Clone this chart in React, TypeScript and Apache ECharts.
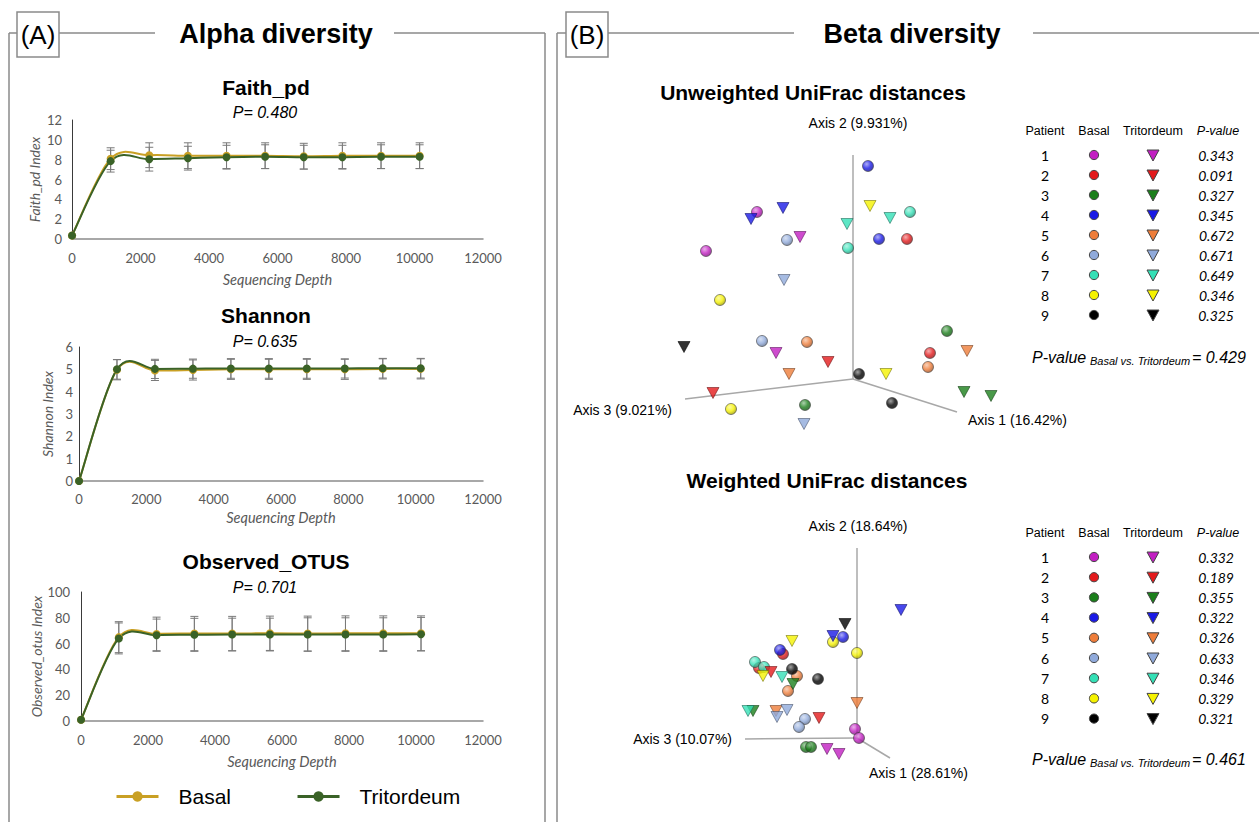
import React, { useEffect, useRef } from "react";
import * as echarts from "echarts";

// ---------- Alpha diversity data ----------
const DEPTHS = [1, 1128, 2256, 3384, 4512, 5639, 6767, 7895, 9023, 10150];
const X_TICKS_MAX = 12000;

const FAITH_BASAL = [0.35, 8.1, 8.45, 8.4, 8.4, 8.4, 8.35, 8.4, 8.4, 8.4];
const FAITH_BASAL_SD = [0, 1.1, 1.25, 1.3, 1.3, 1.3, 1.3, 1.3, 1.3, 1.3];
const FAITH_TRIT = [0.35, 7.85, 8.05, 8.15, 8.25, 8.3, 8.25, 8.25, 8.3, 8.3];
const FAITH_TRIT_SD = [0, 1.1, 1.2, 1.2, 1.2, 1.2, 1.2, 1.2, 1.2, 1.2];

const SHANNON_BASAL = [0, 4.98, 4.95, 4.97, 5.0, 5.0, 5.0, 5.0, 5.02, 5.02];
const SHANNON_BASAL_SD = [0, 0.45, 0.45, 0.45, 0.45, 0.45, 0.45, 0.45, 0.45, 0.45];
const SHANNON_TRIT = [0, 5.0, 5.02, 5.03, 5.04, 5.04, 5.04, 5.04, 5.05, 5.05];
const SHANNON_TRIT_SD = [0, 0.44, 0.43, 0.43, 0.44, 0.44, 0.44, 0.43, 0.44, 0.44];

const OBS_BASAL = [1, 65, 67.5, 67.8, 67.8, 68, 67.8, 68, 68, 68];
const OBS_BASAL_SD = [0, 12, 13, 13.3, 13.3, 13.3, 13.5, 13.5, 13.5, 13.5];
const OBS_TRIT = [1, 64, 66.5, 66.8, 67, 67, 67, 67, 67, 67.3];
const OBS_TRIT_SD = [0, 12, 12.5, 12.8, 12.7, 12.7, 13, 13, 13, 13];

const ALPHA_TITLES = ["Faith_pd", "Shannon", "Observed_OTUS"];
const ALPHA_P = ["P= 0.480", "P= 0.635", "P= 0.701"];
const ALPHA_YNAMES = ["Faith_pd Index", "Shannon Index", "Observed_otus Index"];

// ---------- Beta diversity data (projected PCoA coordinates) ----------
const PATIENTS = ["1", "2", "3", "4", "5", "6", "7", "8", "9"];
const PATIENT_COLORS = ["#C21FC2", "#E31A1C", "#1B7F1B", "#1A1AE6", "#EE7D3A", "#90AADB", "#34E0B6", "#F5F200", "#000000"];

const UNW_BASAL = [
  [[-96, 167], [-147, 128]],
  [[54, 140], [77, 26]],
  [[94, 48], [-48, -26]],
  [[15, 213], [26, 140]],
  [[-46, 37], [75, 12]],
  [[-66, 139], [-91, 38]],
  [[57, 167], [-5, 131]],
  [[-133, 79], [-122, -30]],
  [[6, 5], [39, -24]],
];
const UNW_TRIT = [
  [[-53, 142], [-77, 26]],
  [[-140, -14], [-25, 17]],
  [[111, -13], [138, -17]],
  [[-70, 171], [-102, 160]],
  [[-64, 5], [114, 28]],
  [[-69, 99], [-49, -45]],
  [[-6, 155], [37, 161]],
  [[17, 173], [33, 5]],
  [[-169, 32]],
];
const UNW_AXES = [[0, 224], [-168, -20], [104, -33]];
const UNW_AXIS_NAMES = ["Axis 2 (9.931%)", "Axis 3 (9.021%)", "Axis 1 (16.42%)"];
const UNW_PVALUES = ["0.343", "0.091", "0.327", "0.345", "0.672", "0.671", "0.649", "0.346", "0.325"];
const UNW_TOTAL_P = "= 0.429";

const W_BASAL = [
  [[-2, 9], [2, 0]],
  [[-74, 84], [-98, 70]],
  [[-51, -9], [-46, -9]],
  [[-77, 88], [-14, 101]],
  [[-60, 62], [-69, 47]],
  [[-52, 19], [-58, 11]],
  [[-102, 76], [-93, 71]],
  [[-24, 96], [0, 85]],
  [[-65, 69], [-39, 59]],
];
const W_TRIT = [
  [[-30, -11], [-18, -16]],
  [[-86, 66], [-38, 20]],
  [[-64, 54], [-104, 27]],
  [[-24, 102], [44, 128]],
  [[0, 35], [-81, 27]],
  [[-70, 28], [-80, 21]],
  [[-75, 61], [-109, 27]],
  [[-65, 97], [-94, 62]],
  [[-12, 114]],
];
const W_AXES = [[0, 190], [-112, -1], [33, -20]];
const W_AXIS_NAMES = ["Axis 2 (18.64%)", "Axis 3 (10.07%)", "Axis 1 (28.61%)"];
const W_PVALUES = ["0.332", "0.189", "0.355", "0.322", "0.326", "0.633", "0.346", "0.329", "0.321"];
const W_TOTAL_P = "= 0.461";

// ---------- styles ----------
const BASAL_COLOR = "#C9A024";
const TRIT_COLOR = "#3A6227";
const GRAY_TXT = "#595959";
const FRAME = "#8a8a8a";
const ARIAL = "Liberation Sans, Arial, sans-serif";
const CALIBRI = "Lato, sans-serif";

function hexToRgb(h: string) {
  const n = parseInt(h.slice(1), 16);
  return [(n >> 16) & 255, (n >> 8) & 255, n & 255];
}
function mix(c: string, w: string, t: number) {
  const a = hexToRgb(c), b = hexToRgb(w);
  const r = a.map((v, i) => Math.round(v + (b[i] - v) * t));
  return `rgb(${r[0]},${r[1]},${r[2]})`;
}
function sphere(c: string) {
  return {
    type: "radial", x: 0.38, y: 0.33, r: 0.7,
    colorStops: [
      { offset: 0, color: mix(c, "#ffffff", 0.55) },
      { offset: 0.55, color: c },
      { offset: 1, color: mix(c, "#000000", 0.35) },
    ],
  };
}

function txt(text: string, x: number, y: number, o: any = {}) {
  const align = o.align || "center";
  return {
    type: "text",
    silent: true,
    z: 10,
    style: {
      text, x, y,
      fill: o.color || "#000",
      fontSize: o.size || 14,
      fontFamily: o.family || ARIAL,
      fontWeight: o.weight || "normal",
      fontStyle: o.style || "normal",
      textAlign: align, align,
      textVerticalAlign: "middle", verticalAlign: "middle",
    },
  };
}
function gline(x1: number, y1: number, x2: number, y2: number, color = FRAME, w = 1.5) {
  return { type: "line", silent: true, shape: { x1, y1, x2, y2 }, style: { stroke: color, lineWidth: w } };
}

const ALPHA_GRIDS = [
  { left: 72, top: 120, width: 411, height: 119, max: 12, interval: 2, yGap: 31, xGap: 33, yMargin: 10, xMargin: 12, titleY: 87, pY: 112 },
  { left: 79, top: 347, width: 404, height: 134, max: 6, interval: 1, yGap: 25, xGap: 29, yMargin: 6, xMargin: 11, titleY: 315, pY: 341 },
  { left: 81, top: 592, width: 402, height: 129, max: 100, interval: 20, yGap: 35, xGap: 33, yMargin: 11, xMargin: 12, titleY: 561, pY: 587 },
];

function errSeries(idx: number, means: number[], sds: number[]) {
  const data: number[][] = [];
  DEPTHS.forEach((d, i) => {
    if (sds[i] > 0) data.push([d, means[i] - sds[i], means[i] + sds[i]]);
  });
  return {
    type: "custom",
    xAxisIndex: idx, yAxisIndex: idx,
    silent: true,
    z: 1,
    encode: { x: 0, y: [1, 2] },
    data,
    renderItem: (_p: any, api: any) => {
      const x = api.value(0);
      const lo = api.coord([x, api.value(1)]);
      const hi = api.coord([x, api.value(2)]);
      const cap = 4;
      const st = { stroke: "#7a7a7a", lineWidth: 1 };
      return {
        type: "group",
        children: [
          { type: "line", shape: { x1: lo[0], y1: lo[1], x2: hi[0], y2: hi[1] }, style: st },
          { type: "line", shape: { x1: lo[0] - cap, y1: lo[1], x2: lo[0] + cap, y2: lo[1] }, style: st },
          { type: "line", shape: { x1: hi[0] - cap, y1: hi[1], x2: hi[0] + cap, y2: hi[1] }, style: st },
        ],
      };
    },
  };
}

// Excel-style smoothed line: one cubic Bezier per segment, tangents from neighbours
function smoothSeries(idx: number, vals: number[], color: string) {
  const n = DEPTHS.length;
  const data: number[][] = [];
  for (let i = 0; i < n - 1; i++) {
    const a = Math.max(0, i - 1), b = Math.min(n - 1, i + 2);
    data.push([DEPTHS[i], vals[i], DEPTHS[i + 1], vals[i + 1], DEPTHS[a], vals[a], DEPTHS[b], vals[b]]);
  }
  return {
    type: "custom",
    xAxisIndex: idx, yAxisIndex: idx,
    silent: true,
    z: 2,
    encode: { x: [0, 2], y: [1, 3] },
    data,
    renderItem: (_p: any, api: any) => {
      const p1 = api.coord([api.value(0), api.value(1)]);
      const p2 = api.coord([api.value(2), api.value(3)]);
      const p0 = api.coord([api.value(4), api.value(5)]);
      const p3 = api.coord([api.value(6), api.value(7)]);
      return {
        type: "bezierCurve",
        shape: {
          x1: p1[0], y1: p1[1], x2: p2[0], y2: p2[1],
          cpx1: p1[0] + (p2[0] - p0[0]) / 6, cpy1: p1[1] + (p2[1] - p0[1]) / 6,
          cpx2: p2[0] - (p3[0] - p1[0]) / 6, cpy2: p2[1] - (p3[1] - p1[1]) / 6,
        },
        style: { stroke: color, lineWidth: 2, fill: "none" },
      };
    },
  };
}
function markerSeries(idx: number, name: string, vals: number[], color: string) {
  return {
    type: "line", name,
    xAxisIndex: idx, yAxisIndex: idx,
    data: DEPTHS.map((d, i) => [d, vals[i]]),
    symbol: "circle", symbolSize: 8,
    lineStyle: { color, width: 2, opacity: 0 },
    itemStyle: { color },
    z: 3,
  };
}

function scatterSeries(gi: number, groups: number[][][], tri: boolean) {
  const data: any[] = [];
  groups.forEach((pts, p) => {
    const c = PATIENT_COLORS[p];
    pts.forEach((pt) => {
      data.push({
        value: pt,
        itemStyle: tri
          ? { color: c, borderColor: mix(c, "#000000", 0.55), borderWidth: 0.7 }
          : { color: sphere(c), borderColor: "#333333", borderWidth: 0.7 },
      });
    });
  });
  return {
    type: "scatter",
    xAxisIndex: gi, yAxisIndex: gi,
    data,
    symbol: tri ? "triangle" : "circle",
    symbolRotate: tri ? 180 : 0,
    symbolSize: tri ? [12, 11] : 11,
    clip: false,
    silent: true,
    z: 4,
  };
}
function axesSeries(gi: number, axes: number[][]) {
  return {
    type: "lines",
    coordinateSystem: "cartesian2d",
    xAxisIndex: gi, yAxisIndex: gi,
    silent: true,
    z: 2,
    lineStyle: { color: "#a8a8a8", width: 1.5, opacity: 1 },
    data: axes.map((a) => ({ coords: [[0, 0], a] })),
  };
}

function tableGraphics(headerY: number, rowY0: number, rowStep: number, pvals: string[], totalP: string, totalY: number) {
  const g: any[] = [];
  g.push(txt("Patient", 1045, headerY, { size: 12.5 }));
  g.push(txt("Basal", 1094, headerY, { size: 12.5 }));
  g.push(txt("Tritordeum", 1153, headerY, { size: 12.5 }));
  g.push(txt("P-value", 1218, headerY, { size: 12.5, style: "italic" }));
  PATIENTS.forEach((p, i) => {
    const y = rowY0 + i * rowStep;
    const c = PATIENT_COLORS[i];
    g.push(txt(p, 1045, y, { size: 14, family: CALIBRI }));
    g.push({ type: "circle", silent: true, z: 10, shape: { cx: 1094, cy: y, r: 4.6 }, style: { fill: c, stroke: "#444", lineWidth: 1 } });
    g.push({
      type: "polygon", silent: true, z: 10,
      shape: { points: [[1147, y - 5], [1159, y - 5], [1153, y + 6]] },
      style: { fill: c, stroke: "#444", lineWidth: 1 },
    });
    g.push(txt(pvals[i], 1234, y, { size: 14, family: CALIBRI, style: "italic", align: "right" }));
  });
  g.push(txt("P-value", 1032, totalY, { size: 16, style: "italic", align: "left" }));
  g.push(txt("Basal vs. Tritordeum", 1090, totalY + 4, { size: 11, style: "italic", align: "left" }));
  g.push(txt(totalP, 1192, totalY, { size: 16, style: "italic", align: "left" }));
  return g;
}

function buildOption() {
  const grids: any[] = [];
  const xAxes: any[] = [];
  const yAxes: any[] = [];
  const series: any[] = [];
  const graphic: any[] = [];

  const alphaData = [
    [FAITH_BASAL, FAITH_BASAL_SD, FAITH_TRIT, FAITH_TRIT_SD],
    [SHANNON_BASAL, SHANNON_BASAL_SD, SHANNON_TRIT, SHANNON_TRIT_SD],
    [OBS_BASAL, OBS_BASAL_SD, OBS_TRIT, OBS_TRIT_SD],
  ];

  ALPHA_GRIDS.forEach((gd, i) => {
    grids.push({ left: gd.left, top: gd.top, width: gd.width, height: gd.height });
    xAxes.push({
      gridIndex: i, type: "value", min: 0, max: X_TICKS_MAX, interval: 2000,
      name: "Sequencing Depth", nameLocation: "middle", nameGap: gd.xGap,
      nameTextStyle: { fontStyle: "italic", fontFamily: CALIBRI, fontSize: 14.5, color: GRAY_TXT },
      axisLine: { show: true, onZero: false, lineStyle: { color: "#8c8c8c", width: 1.5 } },
      axisTick: { show: false },
      axisLabel: { color: GRAY_TXT, fontFamily: CALIBRI, fontSize: 13, margin: gd.xMargin, formatter: (v: number) => String(v) },
      splitLine: { show: false },
    });
    yAxes.push({
      gridIndex: i, type: "value", min: 0, max: gd.max, interval: gd.interval,
      name: ALPHA_YNAMES[i], nameLocation: "middle", nameGap: gd.yGap,
      nameTextStyle: { fontStyle: "italic", fontFamily: CALIBRI, fontSize: 14, color: GRAY_TXT },
      axisLine: { show: true, lineStyle: { color: "#3a3a3a", width: 1 } },
      axisTick: { show: false },
      axisLabel: { color: GRAY_TXT, fontFamily: CALIBRI, fontSize: 13, margin: gd.yMargin },
      splitLine: { show: false },
    });
    const [b, bsd, t, tsd] = alphaData[i];
    series.push(errSeries(i, b, bsd));
    series.push(errSeries(i, t, tsd));
    series.push(smoothSeries(i, b, BASAL_COLOR));
    series.push(smoothSeries(i, t, TRIT_COLOR));
    series.push(markerSeries(i, "Basal", b, BASAL_COLOR));
    series.push(markerSeries(i, "Tritordeum", t, TRIT_COLOR));
    graphic.push(txt(ALPHA_TITLES[i], 266, gd.titleY, { size: 21, weight: "bold" }));
    graphic.push(txt(ALPHA_P[i], 265, gd.pY, { size: 16, style: "italic" }));
  });

  // Beta scatter grids (hidden axes)
  grids.push({ left: 553, top: 79, width: 450, height: 360 });
  xAxes.push({ gridIndex: 3, type: "value", min: -300, max: 150, show: false });
  yAxes.push({ gridIndex: 3, type: "value", min: -60, max: 300, show: false });
  grids.push({ left: 607, top: 538, width: 350, height: 260 });
  xAxes.push({ gridIndex: 4, type: "value", min: -250, max: 100, show: false });
  yAxes.push({ gridIndex: 4, type: "value", min: -60, max: 200, show: false });

  series.push(axesSeries(3, UNW_AXES));
  series.push(scatterSeries(3, UNW_BASAL, false));
  series.push(scatterSeries(3, UNW_TRIT, true));
  series.push(axesSeries(4, W_AXES));
  series.push(scatterSeries(4, W_BASAL, false));
  series.push(scatterSeries(4, W_TRIT, true));

  // Frames
  graphic.push(gline(9, 33, 9, 822));
  graphic.push(gline(545, 33, 545, 822));
  graphic.push(gline(9, 33, 17, 33));
  graphic.push(gline(59, 33, 155, 33));
  graphic.push(gline(394, 33, 545, 33));
  graphic.push({ type: "rect", silent: true, shape: { x: 17, y: 12, width: 42, height: 45 }, style: { fill: "#fff", stroke: FRAME, lineWidth: 1.5 } });
  graphic.push(txt("(A)", 38, 35, { size: 26 }));
  graphic.push(txt("Alpha diversity", 276, 34, { size: 27, weight: "bold" }));

  graphic.push(gline(557, 33, 557, 822));
  graphic.push(gline(557, 33, 566, 33));
  graphic.push(gline(608, 33, 794, 33));
  graphic.push(gline(1033, 33, 1259, 33));
  graphic.push({ type: "rect", silent: true, shape: { x: 566, y: 12, width: 42, height: 45 }, style: { fill: "#fff", stroke: FRAME, lineWidth: 1.5 } });
  graphic.push(txt("(B)", 587, 35, { size: 26 }));
  graphic.push(txt("Beta diversity", 912, 34, { size: 27, weight: "bold" }));

  // Beta titles & axis names
  graphic.push(txt("Unweighted UniFrac distances", 813, 92, { size: 21, weight: "bold" }));
  graphic.push(txt(UNW_AXIS_NAMES[0], 858, 123, { size: 14 }));
  graphic.push(txt(UNW_AXIS_NAMES[1], 672, 410, { size: 14, align: "right" }));
  graphic.push(txt(UNW_AXIS_NAMES[2], 968, 420, { size: 14, align: "left" }));
  graphic.push(txt("Weighted UniFrac distances", 827, 480, { size: 21, weight: "bold" }));
  graphic.push(txt(W_AXIS_NAMES[0], 858, 526, { size: 14 }));
  graphic.push(txt(W_AXIS_NAMES[1], 732, 739, { size: 14, align: "right" }));
  graphic.push(txt(W_AXIS_NAMES[2], 869, 773, { size: 14, align: "left" }));

  graphic.push(...tableGraphics(131, 155, 20, UNW_PVALUES, UNW_TOTAL_P, 357));
  graphic.push(...tableGraphics(533, 557, 20.2, W_PVALUES, W_TOTAL_P, 759));

  return {
    animation: false,
    backgroundColor: "#ffffff",
    grid: grids,
    xAxis: xAxes,
    yAxis: yAxes,
    series,
    graphic,
    legend: {
      data: ["Basal", "Tritordeum"],
      left: 115, top: 786, padding: 0,
      itemWidth: 42, itemHeight: 13, itemGap: 65,
      selectedMode: false,
      lineStyle: { width: 3, opacity: 1 },
      textStyle: { fontFamily: ARIAL, fontSize: 21, color: "#000", padding: [0, 0, 0, 15] },
    },
  };
}

export default function App() {
  const ref = useRef<HTMLDivElement>(null);
  useEffect(() => {
    if (!ref.current) return;
    const chart = echarts.init(ref.current, null, { renderer: "svg" });
    chart.setOption(buildOption() as any);
    return () => chart.dispose();
  }, []);
  return (
    <div
      ref={ref}
      style={{ position: "fixed", left: 0, top: 0, width: 1259, height: 822, background: "#fff" }}
    />
  );
}
